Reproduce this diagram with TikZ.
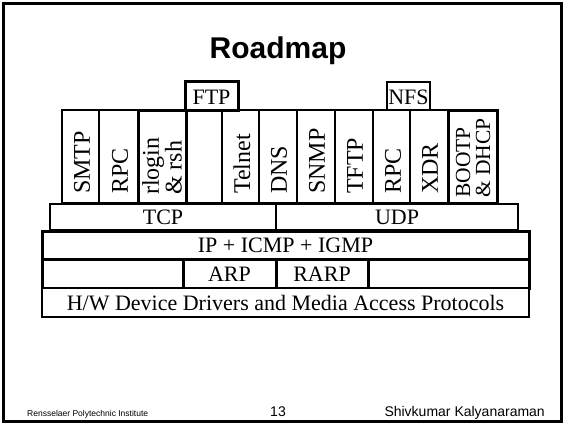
\documentclass[tikz,border=0pt]{standalone}
\usepackage{fontspec}
\setmainfont{Liberation Serif}
\newfontfamily\arial{Liberation Sans}
\begin{document}
\begin{tikzpicture}[x=1pt,y=-1pt,
  box/.style={draw=black,line width=2.4pt,fill=white},
  thk/.style={draw=black,line width=3pt,fill=white},
  lbl/.style={inner sep=0pt,font=\fontsize{22}{21}\selectfont},
  vlbl/.style={inner sep=0pt,font=\fontsize{24}{21}\selectfont,rotate=90,anchor=west,align=left}]
\useasboundingbox (0,0) rectangle (564,424);
\draw[line width=3pt] (3.5,3.5) rectangle (561,421.5);
\node[anchor=base,inner sep=0pt,font=\arial\bfseries\fontsize{30}{30}\selectfont] (title) at (278,58) {Roadmap};
% application boxes
\draw[box] (62,110) rectangle (99,203.5);
\draw[box] (99,110) rectangle (138,203.5);
\draw[box] (186,110) rectangle (222,203.5);
\draw[box] (222,110) rectangle (259,203.5);
\draw[box] (259,110) rectangle (297,203.5);
\draw[box] (297,110) rectangle (335,203.5);
\draw[box] (335,110) rectangle (373,203.5);
\draw[box] (373,110) rectangle (410,203.5);
\draw[box] (410,110) rectangle (448,203.5);
\draw[thk] (138,110) rectangle (186,203.5);
\draw[thk] (448,110) rectangle (497,203.5);
\draw[thk] (185,81) rectangle (238,110);
\draw[box] (387,82) rectangle (430,110);
\node[lbl,anchor=base] (ftp) at (211.5,104) {FTP};
\node[lbl,anchor=base] (nfs) at (408.5,104) {NFS};
\node[vlbl] (smtp) at (82,194) {SMTP};
\node[vlbl] (rpc1) at (120,194) {RPC};
\node[vlbl] (rlogin) at (162,195) {rlogin\\\& rsh};
\node[vlbl] (telnet) at (242,194) {Telnet};
\node[vlbl] (dns) at (279,194) {DNS};
\node[vlbl] (snmp) at (317,194) {SNMP};
\node[vlbl] (tftp) at (355,194) {TFTP};
\node[vlbl] (rpc2) at (393,194) {RPC};
\node[vlbl] (xdr) at (430,194) {XDR};
\node[vlbl,font=\fontsize{21.5}{20}\selectfont] (bootp) at (473,198) {BOOTP\\\& DHCP};
% transport
\draw[box] (50,204) rectangle (518,230);
\draw[box] (276,204) -- (276,230);
\node[lbl,anchor=base] (tcp) at (163,224) {TCP};
\node[lbl,anchor=base] (udp) at (397,224) {UDP};
% network
\draw[thk] (42,231.5) rectangle (529,259);
\node[lbl,anchor=base] (ip) at (285.5,252.5) {IP + ICMP + IGMP};
\draw[thk] (42,259) rectangle (529,288);
\draw[thk] (183,259) -- (183,288);
\draw[thk] (276,259) -- (276,288);
\draw[thk] (368,259) -- (368,288);
\node[lbl,anchor=base] (arp) at (229.5,281.5) {ARP};
\node[lbl,anchor=base] (rarp) at (322,281.5) {RARP};
\draw[box] (42,288) rectangle (529,317);
\node[lbl,anchor=base] (hw) at (285.5,310.5) {H/W Device Drivers and Media Access Protocols};
% footer
\node[anchor=base west,inner sep=0pt,font=\arial\fontsize{8.5}{9}\selectfont] (inst) at (27,416) {Rensselaer Polytechnic Institute};
\node[anchor=base,inner sep=0pt,font=\arial\fontsize{14}{14}\selectfont] (page) at (278,416) {13};
\node[anchor=base east,inner sep=0pt,font=\arial\fontsize{14}{14}\selectfont] (auth) at (545,416) {Shivkumar Kalyanaraman};
\end{tikzpicture}
\end{document}
